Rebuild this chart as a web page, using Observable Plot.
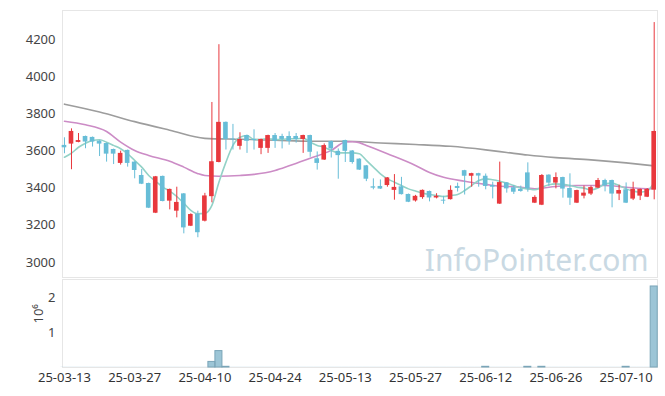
<!DOCTYPE html>
<html><head><meta charset="utf-8">
<script src="https://cdn.jsdelivr.net/npm/d3@7"></script>
<script src="https://cdn.jsdelivr.net/npm/@observablehq/plot@0.6"></script>
<style>body{margin:0;background:#fff;font-family:"Noto Sans",sans-serif}#c svg{display:block}</style>
</head><body><div id="c"></div><script>
const dates = ["25-03-13","25-03-14","25-03-17","25-03-18","25-03-19","25-03-20","25-03-21","25-03-24","25-03-25","25-03-26","25-03-27","25-03-28","25-03-31",
"25-04-01","25-04-02","25-04-03","25-04-04","25-04-07","25-04-08","25-04-09","25-04-10","25-04-11","25-04-14","25-04-15","25-04-16","25-04-17","25-04-18","25-04-21","25-04-22","25-04-23","25-04-24","25-04-25","25-04-28","25-04-29","25-04-30",
"25-05-02","25-05-07","25-05-08","25-05-09","25-05-12","25-05-13","25-05-14","25-05-15","25-05-16","25-05-19","25-05-20","25-05-21","25-05-22","25-05-23","25-05-26","25-05-27","25-05-28","25-05-29","25-05-30",
"25-06-02","25-06-04","25-06-05","25-06-09","25-06-10","25-06-11","25-06-12","25-06-13","25-06-16","25-06-17","25-06-18","25-06-19","25-06-20","25-06-23","25-06-24","25-06-25","25-06-26","25-06-27","25-06-30",
"25-07-01","25-07-02","25-07-03","25-07-04","25-07-07","25-07-08","25-07-09","25-07-10","25-07-11","25-07-14","25-07-15","25-07-16"];
const open  = [3630,3637,3646,3678,3673,3653,3640,3608,3533,3603,3540,3468,3425,3265,3463,3330,3276,3369,3195,3260,3222,3354,3538,3754,3664,3625,3683,3662,3614,3614,3683,3678,3678,3678,3662,3683,3558,3551,3651,3598,3656,3600,3556,3520,3407,3409,3414,3388,3407,3366,3331,3349,3382,3347,3335,3338,3409,3494,3464,3478,3464,3414,3314,3428,3402,3393,3482,3319,3308,3470,3427,3457,3398,3319,3357,3368,3400,3441,3441,3368,3391,3341,3357,3351,3389];
const high  = [3671,3719,3694,3680,3675,3655,3642,3610,3599,3605,3542,3500,3427,3463,3465,3395,3405,3371,3262,3276,3372,3861,4172,3756,3743,3698,3685,3714,3664,3685,3694,3690,3703,3694,3685,3685,3595,3638,3653,3611,3658,3602,3558,3522,3450,3444,3457,3473,3458,3368,3361,3390,3384,3370,3356,3412,3427,3496,3480,3480,3476,3432,3540,3430,3414,3411,3536,3359,3473,3472,3482,3459,3477,3389,3411,3411,3452,3448,3443,3416,3428,3432,3395,3398,4291];
const low   = [3585,3499,3644,3612,3621,3570,3540,3527,3524,3513,3450,3419,3290,3263,3326,3283,3240,3154,3193,3133,3218,3321,3536,3605,3605,3605,3587,3605,3580,3587,3614,3611,3631,3642,3587,3566,3497,3549,3562,3448,3538,3529,3495,3435,3391,3393,3405,3335,3363,3322,3325,3340,3326,3342,3313,3336,3379,3363,3405,3405,3391,3342,3312,3373,3366,3378,3378,3317,3306,3409,3396,3346,3307,3317,3342,3360,3398,3380,3294,3333,3317,3333,3333,3349,3337];
const close = [3617,3705,3656,3648,3648,3637,3583,3583,3587,3533,3495,3421,3292,3461,3328,3393,3323,3186,3258,3160,3358,3542,3754,3662,3660,3662,3652,3656,3662,3683,3651,3662,3651,3662,3683,3593,3533,3629,3611,3575,3598,3538,3497,3448,3400,3395,3455,3404,3365,3324,3356,3388,3347,3356,3330,3388,3398,3464,3478,3465,3409,3405,3430,3396,3378,3382,3396,3350,3468,3427,3457,3395,3346,3387,3373,3403,3441,3412,3368,3387,3319,3394,3393,3393,3705];
// volume in millions
const volume = [0.004,0.004,0.004,0.004,0.004,0.004,0.004,0.004,0.004,0.004,0.004,0.004,0.004,0.004,0.004,0.004,0.004,0.004,0.004,0.004,0.004,0.16,0.47,0.02,0.004,0.004,0.004,0.004,0.004,0.004,0.004,0.004,0.004,0.004,0.004,0.004,0.004,0.004,0.004,0.004,0.004,0.004,0.004,0.004,0.004,0.004,0.004,0.004,0.004,0.004,0.004,0.004,0.004,0.004,0.004,0.004,0.004,0.004,0.004,0.004,0.02,0.004,0.004,0.004,0.004,0.004,0.02,0.004,0.02,0.004,0.004,0.004,0.004,0.004,0.004,0.004,0.004,0.004,0.004,0.004,0.02,0.004,0.004,0.004,2.32];
const ma5 = [3566,3588,3620,3642,3656,3660,3647,3630,3612,3585,3549,3513,3468,3437,3405,3384,3355,3319,3280,3262,3264,3307,3432,3540,3630,3674,3683,3662,3662,3666,3662,3662,3666,3666,3669,3647,3630,3620,3603,3590,3590,3590,3585,3549,3513,3477,3450,3432,3414,3396,3384,3373,3366,3360,3355,3360,3366,3387,3414,3441,3450,3445,3437,3427,3414,3401,3396,3391,3405,3418,3423,3420,3414,3405,3400,3391,3401,3423,3427,3414,3396,3384,3378,3384,3432];
const ma20Idx = [0,3,6,8,10,12,15,17,19,20,22,25,27,30,32,35,38,40,41,42,43,46,50,52,54,57,60,62,64,67,70,73,77,80,83,84];
const ma20Val = [3760,3741,3705,3648,3603,3576,3545,3513,3478,3468,3464,3468,3474,3495,3520,3561,3603,3648,3650,3645,3630,3585,3522,3484,3458,3437,3420,3410,3408,3397,3409,3414,3414,3405,3397,3400];
const ma60Idx = [0,5,10,15,20,25,30,35,40,45,50,55,60,63,66,70,75,80,84];
const ma60Val = [3852,3810,3758,3712,3668,3663,3658,3652,3652,3643,3635,3625,3606,3592,3578,3564,3552,3536,3520];
const tickIdx = [0,10,20,30,40,50,60,70,80];
const tickLabels = ["25-03-13","25-03-27","25-04-10","25-04-24","25-05-13","25-05-27","25-06-12","25-06-26","25-07-10"];
const priceTicks = [3000,3200,3400,3600,3800,4000,4200];
const volTicks = [1,2];

const UP = "#e8383d", DOWN = "#67bdd7";
const candles = dates.map((d,i)=>({i, date:d, open:open[i], high:high[i], low:low[i], close:close[i], vol:volume[i]}));
const ma20 = ma20Idx.map((i,k)=>({i, v:ma20Val[k]}));
const ma60 = ma60Idx.map((i,k)=>({i, v:ma60Val[k]}));
const m5 = ma5.map((v,i)=>({i, v}));
const xDomain = [-0.28, 84.47];
const col = d => d.close >= d.open ? UP : DOWN;
const cross = (ys) => tickIdx.flatMap(x => ys.map(y => ({x, y})));
const common = {width:665, marginLeft:62, marginRight:8,
  style:{fontSize:"13px", fontFamily:"Noto Sans, sans-serif", color:"#444", background:"#fff", overflow:"visible"}};

const price = Plot.plot({...common, height:278, marginTop:10, marginBottom:1,
  x:{domain:xDomain, axis:null},
  y:{domain:[2919,4356]},
  marks:[
    Plot.frame({stroke:"#e6e6e6"}),
    Plot.dot(cross(priceTicks), {x:"x", y:"y", symbol:"plus", r:1.9, fill:"#e0e0e0"}),
    Plot.text(["InfoPointer.com"], {frameAnchor:"bottom-right", dx:-9, dy:-7, fontSize:30, fill:"#c9d9e3"}),
    Plot.line(ma60, {x:"i", y:"v", stroke:"#9d9d9d", strokeWidth:1.6, curve:"monotone-x"}),
    Plot.line(ma20, {x:"i", y:"v", stroke:"#cc8cc6", strokeWidth:1.6, curve:"monotone-x"}),
    Plot.line(m5, {x:"i", y:"v", stroke:"#93d2c7", strokeWidth:1.6, curve:"monotone-x"}),
    Plot.ruleX(candles, {x:"i", y1:"low", y2:"high", stroke:col, strokeWidth:1}),
    Plot.rect(candles, {x1:d=>d.i-0.33, x2:d=>d.i+0.33, y1:"open", y2:"close", fill:col}),
    Plot.axisY({ticks:priceTicks, tickSize:0, tickPadding:7, tickFormat:"d", label:null})
  ]});

const vol = Plot.plot({...common, height:118, marginTop:1, marginBottom:29,
  x:{domain:xDomain},
  y:{domain:[0,2.52]},
  marks:[
    Plot.frame({stroke:"#e6e6e6"}),
    Plot.dot(cross([0,1,2]), {x:"x", y:"y", symbol:"plus", r:1.9, fill:"#e0e0e0"}),
    Plot.rectY(candles, {x1:d=>d.i-0.5, x2:d=>d.i+0.5, y:"vol", fill:"#9cc5d6"}),
    Plot.rectY(candles.filter(d=>d.vol>0.01), {x1:d=>d.i-0.5, x2:d=>d.i+0.5, y:"vol", fill:"none", stroke:"#7aa5b8", strokeWidth:1}),
    Plot.axisY({ticks:volTicks, tickSize:0, tickPadding:7, tickFormat:"d", label:null}),
    Plot.axisX({ticks:tickIdx, tickSize:0, tickPadding:5, tickFormat:d=>tickLabels[tickIdx.indexOf(d)], fill:"#333", label:null}),
    Plot.text(["10⁶"], {frameAnchor:"left", rotate:-90, dx:-24, fontSize:13, fill:"#444"})
  ]});

document.getElementById("c").append(price, vol);
</script></body></html>
